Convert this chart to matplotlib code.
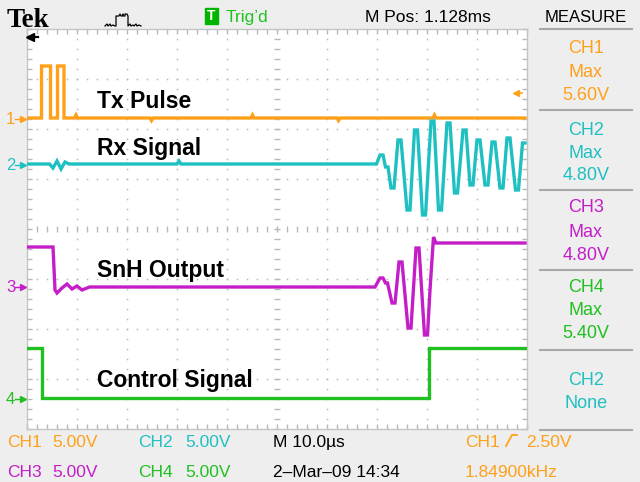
import numpy as np
import matplotlib.pyplot as plt

# scope colours
C1 = '#ffa01a'
C2 = '#1fc0c2'
C3 = '#c41ec8'
C4 = '#20c020'
BG = '#eeeeee'
GRID = '#b8b8b8'
SANS = ['Liberation Sans', 'DejaVu Sans']

# traces: time in us (10 us/div), amplitude in V (5 V/div), position in div
ch1_pos = 2.22
ch1_t = [0, 2.9, 2.9, 4.7, 4.7, 6.1, 6.1, 7.4, 7.4, 9.5, 9.8, 10.1, 24.6, 24.9, 25.2,
         44.8, 45.1, 45.4, 62.0, 62.3, 62.6, 81.2, 81.5, 81.8, 99.6]
ch1_v = [0, 0, 5.2, 5.2, 0, 0, 5.2, 5.2, 0, 0, 0.3, 0, 0, -0.25, 0,
         0, 0.3, 0, 0, -0.25, 0, 0, 0.3, 0, 0]

ch2_pos = 1.30
ch2_t = [0, 4.5, 5.2, 6.0, 6.8, 7.6, 8.4, 30.0, 30.4, 30.8, 69.9,
         70.6, 71.2, 71.7, 72.2, 72.8, 73.4, 74.2, 74.8, 76.0, 76.6, 77.5, 78.1,
         79.1, 79.7, 80.8, 81.4, 82.3, 82.9, 84.0, 84.6, 85.5, 86.1, 87.2, 87.8,
         88.6, 89.2, 90.0, 90.6, 91.6, 92.2, 93.0, 93.6, 94.6, 95.2, 96.0, 96.6,
         97.7, 98.3, 99.1, 99.6]
ch2_v = [0, 0, -0.4, 0.3, -0.5, 0.2, 0, 0, 0.3, 0, 0,
         0.9, 0.9, -0.3, -0.3, -2.4, -2.4, 2.4, 2.4, -4.6, -4.6, 3.4, 3.4,
         -5.1, -5.1, 4.3, 4.3, -4.6, -4.6, 4.1, 4.1, -2.9, -2.9, 3.4, 3.4,
         -2.1, -2.1, 2.4, 2.4, -2.1, -2.1, 2.2, 2.2, -2.4, -2.4, 2.6, 2.6,
         -2.6, -2.6, 2.1, 2.1]

ch3_pos = -1.16
ch3_t = [0, 5.2, 5.6, 6.0, 7.0, 8.0, 9.0, 10.0, 11.0, 12.5, 69.6,
         70.6, 71.2, 71.7, 72.1, 73.0, 73.6, 74.4, 75.0, 76.2, 76.8, 77.8, 78.4,
         79.5, 80.1, 80.6, 81.3, 81.8, 99.6]
ch3_v = [4.0, 4.0, -0.3, -0.6, -0.1, 0.3, -0.2, 0.1, -0.3, 0, 0,
         0.9, 0.9, 0.4, 0.4, -1.6, -1.6, 2.5, 2.5, -4.1, -4.1, 3.9, 3.9,
         -4.8, -4.8, -0.3, 5.0, 4.4, 4.4]

ch4_pos = -3.38
ch4_t = [0, 3.0, 3.0, 80.3, 80.3, 99.6]
ch4_v = [5.0, 5.0, 0, 0, 5.0, 5.0]

labels = ['Tx Pulse', 'Rx Signal', 'SnH Output', 'Control Signal']
label_base = [108, 155.5, 277, 387]

measure = [('CH1', 'Max', '5.60V'), ('CH2', 'Max', '4.80V'), ('CH3', 'Max', '4.80V'),
           ('CH4', 'Max', '5.40V'), ('CH2', 'None')]
measure_col = [C1, C2, C3, C4, C2]
measure_base = [[53, 77, 100], [135, 158, 180], [212, 237, 260], [292, 315, 338], [385, 408]]
sep_y = [29, 110, 190, 270, 350, 430]

fig = plt.figure(figsize=(6.4, 4.82), dpi=100, facecolor=BG)

# graticule area: 10 x 8 divisions
ax = fig.add_axes([27 / 640, 1 - 429 / 482, 500 / 640, 400 / 482])
ax.set_facecolor('white')
ax.set_xlim(0, 100)
ax.set_ylim(-4, 4)
minor_t = np.arange(0, 100.1, 2)
minor_y = np.arange(-4, 4.01, 0.2)
for t in range(10, 100, 10):
    if t != 50:
        ax.plot(np.full_like(minor_y, t), minor_y, ls='none', marker='s', ms=1.1,
                mew=0, color=GRID)
for y in range(-3, 4):
    if y != 0:
        ax.plot(minor_t, np.full_like(minor_t, y), ls='none', marker='s', ms=1.1,
                mew=0, color=GRID)
ax.plot(np.full_like(minor_y, 50), minor_y, ls='none', marker='_', ms=4.5, mew=1, color=GRID)
ax.plot(minor_t, np.zeros_like(minor_t), ls='none', marker='|', ms=4.5, mew=1, color=GRID)
ax.set_xticks(minor_t)
ax.set_yticks(minor_y)
ax.tick_params(direction='in', length=3.5, width=1, color=GRID, top=True, right=True,
               labelbottom=False, labelleft=False)
for s in ax.spines.values():
    s.set_color('#c4c4c4')
    s.set_linewidth(1)

for t, v, pos, c in [(ch1_t, ch1_v, ch1_pos, C1), (ch2_t, ch2_v, ch2_pos, C2),
                     (ch3_t, ch3_v, ch3_pos, C3), (ch4_t, ch4_v, ch4_pos, C4)]:
    ax.plot(t, pos + np.array(v) / 5, color=c, lw=2.4, solid_joinstyle='miter', zorder=5)

# overlay in pixel coordinates for the scope chrome
ov = fig.add_axes([0, 0, 1, 1], zorder=10)
ov.set_xlim(0, 640)
ov.set_ylim(482, 0)
ov.axis('off')
ov.patch.set_alpha(0)

def txt(x, y, s, c='black', size=12.5, ha='left', **kw):
    ov.text(x, y, s, color=c, fontsize=size, ha=ha, va='baseline', family=SANS, **kw)

for lab, yb in zip(labels, label_base):
    ov.text(97, yb, lab, fontsize=16.5, fontweight='bold', family='Liberation Sans',
            va='baseline', color='black')

# top bar
ov.text(7, 27, 'Tek', fontsize=19.5, fontweight='bold', family='Liberation Serif',
        va='baseline')
ov.plot([105, 107, 108, 110, 111, 113, 115, 116, 116, 119, 120, 121, 122, 123, 123, 125,
         125, 127, 128, 128, 130, 131, 133, 134, 136, 137, 139, 141],
        [26, 24, 26, 24, 26, 25, 26, 26, 16, 16, 14, 16, 16, 14, 16, 16,
         14, 14, 16, 26, 24, 26, 25, 26, 24, 26, 25, 26], color='black', lw=0.9)
ov.add_patch(plt.Rectangle((205, 8), 13, 16, color='#00b400'))
ov.text(211.5, 16.5, 'T', color='white', fontsize=10, fontweight='bold', ha='center',
        va='center', family='Liberation Sans')
txt(226, 22, 'Trig\u2019d', '#1ec31e')
txt(365, 22, 'M Pos: 1.128ms')
txt(586, 22, 'MEASURE', size=12, ha='center')

# measurement panel
for y in sep_y:
    ov.plot([540, 632], [y, y], color='#a8a8a8', lw=1.5)
for lines, col, bases in zip(measure, measure_col, measure_base):
    for s, yb in zip(lines, bases):
        txt(586, yb, s, col, size=13, ha='center')

# bottom status rows
txt(7, 447, 'CH1', C1)
txt(52, 447, '5.00V', C1)
txt(138, 447, 'CH2', C2)
txt(185, 447, '5.00V', C2)
txt(273, 447, 'M 10.0\u00b5s')
txt(465, 447, 'CH1', C1)
ov.plot([506, 512, 517], [446, 435, 435], color=C1, lw=1.3)
txt(526, 447, '2.50V', C1)
txt(7, 477, 'CH3', C3)
txt(52, 477, '5.00V', C3)
txt(138, 477, 'CH4', C4)
txt(185, 477, '5.00V', C4)
txt(273, 477, '2\u2013Mar\u201309 14:34')
txt(465, 477, '1.84900kHz', C1)

# channel ground markers
for n, y, c in [('1', 119, C1), ('2', 165, C2), ('3', 287, C3), ('4', 399, C4)]:
    ov.text(6, y, n, color=c, fontsize=12, va='center', family=SANS)
    ov.plot([15, 24], [y, y], color=c, lw=1)
    ov.plot([23], [y], marker='>', ms=4, color=c)

# trigger position / level arrows
ov.plot([29, 38], [37, 37], color='black', lw=1.6)
ov.plot([30], [37], marker='<', ms=6, color='black')
ov.plot([516, 522], [93, 93], color=C1, lw=1.2)
ov.plot([516], [93], marker='<', ms=5, color=C1)

fig.savefig('out.png', dpi=100, facecolor=BG)
